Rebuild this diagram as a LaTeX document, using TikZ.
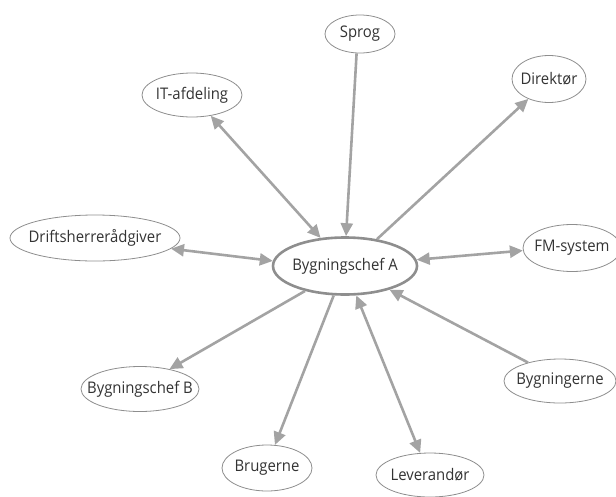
\documentclass[tikz,border=0pt]{standalone}
\usepackage{fontspec}
\setmainfont{Open Sans}[FakeStretch=0.93]
\usetikzlibrary{shapes.geometric,arrows.meta}
% text box of zero width, so the ellipse size is set by minimum width/height
\newcommand\zb[1]{\makebox[0pt]{#1}}
\definecolor{edgegray}{HTML}{A3A3A3}
\definecolor{rimgray}{HTML}{8E8E8E}
\definecolor{inkgray}{HTML}{333333}
\tikzset{
  bub/.style={ellipse, draw=rimgray, line width=0.8pt, fill=white, inner sep=0pt,
              font=\fontsize{16}{19}\selectfont, text=inkgray},
  hub/.style={bub, line width=2.6pt},
  link/.style={draw=edgegray, line width=2.6pt,
               -{Triangle[length=13pt,width=12pt]}},
  both/.style={link, {Triangle[length=13pt,width=12pt]}-{Triangle[length=13pt,width=12pt]}}
}
\begin{document}
\begin{tikzpicture}[x=1pt,y=-1pt]
  \useasboundingbox (0,0) rectangle (616,496);

  % central node
  \node[hub, minimum width=144pt, minimum height=57pt] (A) at (345,266) {\zb{Bygningschef A}};

  % surrounding nodes
  \node[bub, minimum width=70pt,  minimum height=38pt] (sprog) at (360,34)  {\zb{Sprog}};
  \node[bub, minimum width=100pt, minimum height=44pt] (it)    at (192,95)  {\zb{IT-afdeling}};
  \node[bub, minimum width=74pt,  minimum height=47pt] (dir)   at (549,79)  {\zb{Direktør}};
  \node[bub, minimum width=170pt, minimum height=46pt] (drift) at (95,238)  {\zb{Driftsherrerådgiver}};
  \node[bub, minimum width=98pt,  minimum height=47pt] (fm)    at (572,248) {\zb{FM-system}};
  \node[bub, minimum width=118pt, minimum height=45pt] (bygB)  at (140,389) {\zb{Bygningschef B}};
  \node[bub, minimum width=90pt,  minimum height=46pt] (brug)  at (267,468) {\zb{Brugerne}};
  \node[bub, minimum width=108pt, minimum height=44pt] (lev)   at (430,475) {\zb{Leverandør}};
  \node[bub, minimum width=112pt, minimum height=44pt] (bygn)  at (560,381) {\zb{Bygningerne}};

  % connectors
  \draw[link] (sprog.-100) -- (A.88);
  \draw[both] (it.-48)     -- (A.131);
  \draw[link] (A.40)       -- (dir.224);
  \draw[both] (drift.-8)   -- (A.176);
  \draw[both] (fm.183)     -- (A.5);
  \draw[link] (A.212)      -- (bygB.34);
  \draw[link] (A.249)      -- (brug.71);
  \draw[both] (lev.114)    -- (A.291);
  \draw[link] (bygn.150)   -- (A.332);
\end{tikzpicture}
\end{document}
